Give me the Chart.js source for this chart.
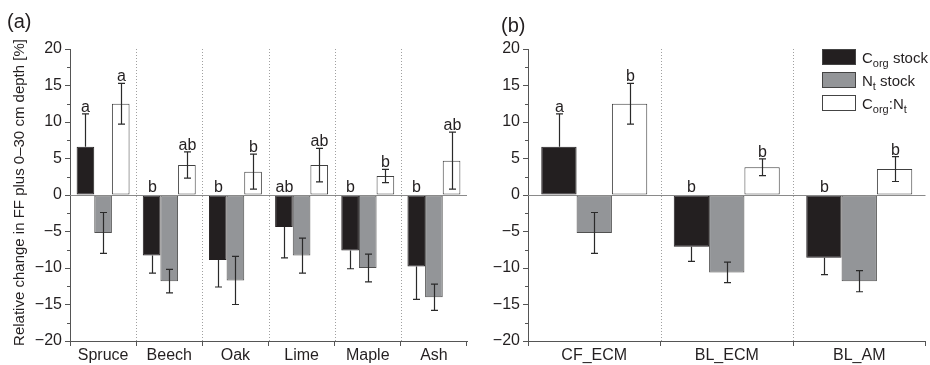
<!DOCTYPE html>
<html>
<head>
<meta charset="utf-8">
<script src="https://cdn.jsdelivr.net/npm/chart.js@4.4.0/dist/chart.umd.min.js"></script>
<style>
html, body { margin: 0; padding: 0; background: #fff; }
body { width: 930px; height: 365px; position: relative; overflow: hidden; }
canvas { position: absolute; top: 0; }
#chartA { left: 0; }
#chartB { left: 458px; }
</style>
</head>
<body>
<canvas id="chartA" width="472" height="365"></canvas>
<canvas id="chartB" width="472" height="365"></canvas>
<script>
const FONT = '"Liberation Sans", Arial, sans-serif';
const INK = '#231f20';

// panel (a): tree species
const speciesLabels = ['Spruce', 'Beech', 'Oak', 'Lime', 'Maple', 'Ash'];
const corgSpecies = [6.6, -8.3, -8.9, -4.4, -7.6, -9.8];
const corgSpeciesErr = [4.5, 2.4, 3.7, 4.2, 2.5, 4.5];
const ntSpecies = [-5.2, -11.8, -11.7, -8.3, -10.0, -14.0];
const ntSpeciesErr = [2.8, 1.6, 3.3, 2.4, 1.9, 1.8];
const ratioSpecies = [12.5, 4.1, 3.2, 4.1, 2.6, 4.7];
const ratioSpeciesErr = [2.8, 1.8, 2.4, 2.3, 0.9, 3.9];
const corgSpeciesLetters = ['a', 'b', 'b', 'ab', 'b', 'b'];
const ratioSpeciesLetters = ['a', 'ab', 'b', 'ab', 'b', 'ab'];

// panel (b): groups
const groupLabels = ['CF_ECM', 'BL_ECM', 'BL_AM'];
const corgGroup = [6.6, -7.1, -8.6];
const corgGroupErr = [4.5, 2.0, 2.3];
const ntGroup = [-5.2, -10.6, -11.8];
const ntGroupErr = [2.8, 1.4, 1.45];
const ratioGroup = [12.5, 3.8, 3.55];
const ratioGroupErr = [2.8, 1.15, 1.7];
const corgGroupLetters = ['a', 'b', 'b'];
const ratioGroupLetters = ['b', 'b', 'b'];

const yMin = -20, yMax = 20, yStep = 5;

function drawRich(ctx, parts, x, y) {
  parts.forEach(p => {
    ctx.font = (p.sub ? '11px ' : '15px ') + FONT;
    ctx.fillText(p.t, x, y + (p.sub ? 4 : 0));
    x += ctx.measureText(p.t).width;
  });
}

const panelDecor = {
  id: 'panelDecor',
  beforeDatasetsDraw(chart, args, opts) {
    const {ctx, chartArea: a, scales: {x}} = chart;
    const n = chart.data.labels.length;
    ctx.save();
    ctx.strokeStyle = '#a0a0a0';
    ctx.lineWidth = 1;
    ctx.setLineDash([1, 2]);
    for (let i = 1; i < n; i++) {
      const px = Math.round((x.getPixelForValue(i - 1) + x.getPixelForValue(i)) / 2) + 0.5;
      ctx.beginPath();
      ctx.moveTo(px, a.top);
      ctx.lineTo(px, a.bottom);
      ctx.stroke();
    }
    ctx.restore();
  },
  afterDatasetsDraw(chart, args, opts) {
    const {ctx, chartArea: a, scales: {y}} = chart;
    const zero = Math.round(y.getPixelForValue(0)) + 0.5;
    ctx.save();
    ctx.strokeStyle = '#8a8a8a';
    ctx.lineWidth = 1;
    ctx.beginPath();
    ctx.moveTo(a.left, zero);
    ctx.lineTo(a.right, zero);
    ctx.stroke();

    // error bars and letters
    chart.data.datasets.forEach((ds, di) => {
      const meta = chart.getDatasetMeta(di);
      meta.data.forEach((bar, i) => {
        const v = ds.data[i], e = ds.errors[i];
        const bx = Math.round(bar.x) + 0.5;
        const yHi = y.getPixelForValue(v + e), yLo = y.getPixelForValue(v - e);
        const yVal = y.getPixelForValue(v);
        // the inner half of a black bar's error bar is hidden by the bar itself
        const yA = ds.outwardOnly && v < 0 ? yVal : yHi;
        const yB = ds.outwardOnly && v >= 0 ? yVal : yLo;
        ctx.strokeStyle = '#2a2a2a';
        ctx.lineWidth = 1.2;
        ctx.beginPath();
        ctx.moveTo(bx, yA); ctx.lineTo(bx, yB);
        if (yA === yHi) { ctx.moveTo(bx - 3.5, yHi); ctx.lineTo(bx + 3.5, yHi); }
        if (yB === yLo) { ctx.moveTo(bx - 3.5, yLo); ctx.lineTo(bx + 3.5, yLo); }
        ctx.stroke();
        if (ds.letters) {
          const ty = v >= 0 ? yHi - 2 : y.getPixelForValue(0) - 3;
          ctx.fillStyle = INK;
          ctx.font = '16px ' + FONT;
          ctx.textAlign = 'center';
          ctx.textBaseline = 'alphabetic';
          ctx.fillText(ds.letters[i], bx, ty);
        }
      });
    });

    // minor ticks on y axis
    ctx.strokeStyle = '#555';
    ctx.lineWidth = 1;
    ctx.beginPath();
    for (let v = yMin + yStep / 2; v < yMax; v += yStep) {
      const py = Math.round(y.getPixelForValue(v)) + 0.5;
      ctx.moveTo(a.left, py);
      ctx.lineTo(a.left - 3, py);
    }
    ctx.stroke();

    // panel tag
    ctx.fillStyle = INK;
    ctx.font = '20px ' + FONT;
    ctx.textAlign = 'left';
    ctx.textBaseline = 'middle';
    ctx.fillText(opts.tag, opts.tagX, opts.tagY);

    if (opts.yTitle) {
      ctx.save();
      ctx.translate(opts.yTitleX, (a.top + a.bottom) / 2 - 2.5);
      ctx.rotate(-Math.PI / 2);
      ctx.font = '15px ' + FONT;
      ctx.textAlign = 'center';
      ctx.textBaseline = 'middle';
      ctx.fillText(opts.yTitle, 0, 0);
      ctx.restore();
    }

    if (opts.legend) {
      const lx = opts.legendX, ly = opts.legendY;
      const rows = [
        {fill: chart.data.datasets[0].backgroundColor, parts: [{t: 'C'}, {t: 'org', sub: true}, {t: ' stock'}]},
        {fill: chart.data.datasets[1].backgroundColor, parts: [{t: 'N'}, {t: 't', sub: true}, {t: ' stock'}]},
        {fill: chart.data.datasets[2].backgroundColor, parts: [{t: 'C'}, {t: 'org', sub: true}, {t: ':N'}, {t: 't', sub: true}]}
      ];
      rows.forEach((r, i) => {
        const top = ly + i * 23;
        ctx.fillStyle = r.fill;
        ctx.fillRect(lx, top, 34, 16);
        ctx.strokeStyle = '#444';
        ctx.lineWidth = 1;
        ctx.strokeRect(lx + 0.5, top + 0.5, 33, 15);
        ctx.fillStyle = INK;
        ctx.textAlign = 'left';
        ctx.textBaseline = 'alphabetic';
        drawRich(ctx, r.parts, lx + 40, top + 14);
      });
    }
    ctx.restore();
  }
};

function makePanel(id, labels, series, decor, axisWidth, padRight) {
  const colors = ['#231f20', '#939598', '#ffffff'];
  const borders = ['#231f20', '#505050', '#404040'];
  return new Chart(document.getElementById(id), {
    type: 'bar',
    data: {
      labels: labels,
      datasets: series.map((s, k) => ({
        data: s.values,
        errors: s.errors,
        letters: s.letters,
        outwardOnly: k === 0,
        backgroundColor: colors[k],
        borderColor: borders[k],
        borderWidth: 1,
        borderSkipped: false,
        categoryPercentage: 0.8,
        barPercentage: 1.0
      }))
    },
    options: {
      responsive: false,
      animation: false,
      layout: {padding: {top: 49, right: padRight, left: 0, bottom: 0}},
      scales: {
        x: {
          afterFit(scale) { scale.height = 24; },
          grid: {drawOnChartArea: false, tickLength: 5, tickColor: '#555'},
          border: {color: '#555'},
          ticks: {color: INK, font: {family: FONT, size: 16}, padding: 0}
        },
        y: {
          min: yMin,
          max: yMax,
          afterFit(scale) { scale.width = axisWidth; },
          grid: {drawOnChartArea: false, tickLength: 5, tickColor: '#555'},
          border: {color: '#555'},
          ticks: {
            stepSize: yStep,
            color: INK,
            padding: 3,
            font: {family: FONT, size: 16},
            callback: v => v < 0 ? '\u2212' + Math.abs(v) : String(v)
          }
        }
      },
      plugins: {
        legend: {display: false},
        tooltip: {enabled: false},
        panelDecor: decor
      }
    },
    plugins: [panelDecor]
  });
}

makePanel('chartA', speciesLabels, [
  {values: corgSpecies, errors: corgSpeciesErr, letters: corgSpeciesLetters},
  {values: ntSpecies, errors: ntSpeciesErr},
  {values: ratioSpecies, errors: ratioSpeciesErr, letters: ratioSpeciesLetters}
], {tag: '(a)', tagX: 7, tagY: 22, yTitle: 'Relative change in FF plus 0\u201330 cm depth [%]', yTitleX: 20}, 70, 5);

makePanel('chartB', groupLabels, [
  {values: corgGroup, errors: corgGroupErr, letters: corgGroupLetters},
  {values: ntGroup, errors: ntGroupErr},
  {values: ratioGroup, errors: ratioGroupErr, letters: ratioGroupLetters}
], {tag: '(b)', tagX: 43, tagY: 26, legend: true, legendX: 364, legendY: 49}, 70, 4.5);
</script>
</body>
</html>
